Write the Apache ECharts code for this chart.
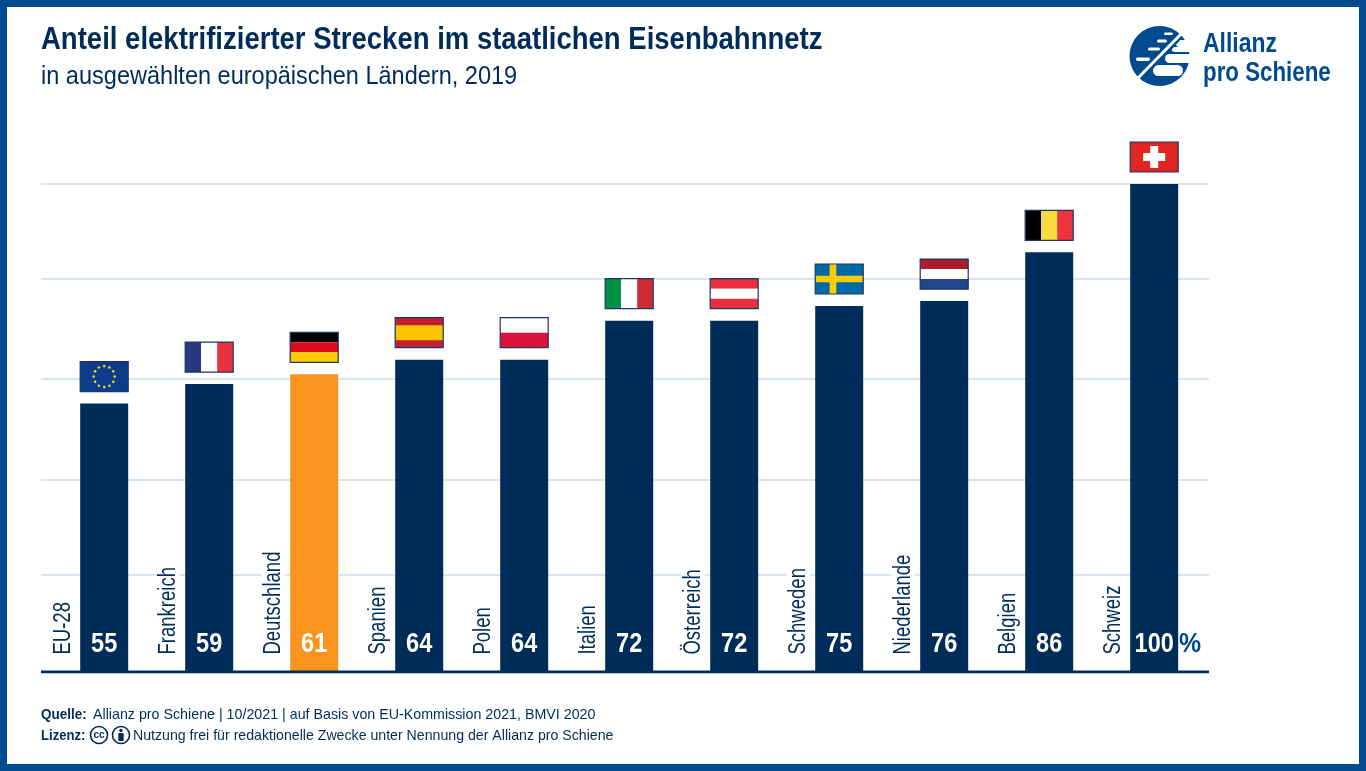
<!DOCTYPE html>
<html>
<head>
<meta charset="utf-8">
<script src="https://cdn.jsdelivr.net/npm/echarts@6/dist/echarts.min.js"></script>
<style>
html,body{margin:0;padding:0;background:#fff}
#main{width:1366px;height:771px}
</style>
</head>
<body>
<div id="main"></div>
<script>
const categories = ['EU-28','Frankreich','Deutschland','Spanien','Polen','Italien','Österreich','Schweden','Niederlande','Belgien','Schweiz'];
const values = [55,59,61,64,64,72,72,75,76,86,100];
const flagKeys = ['eu','fr','de','es','pl','it','at','se','nl','be','ch'];
const gridValues = [20,39.4,60,80.6,100];
const highlight = 'Deutschland';

const SANS = '"Liberation Sans",sans-serif';
const DARK = '#002c5a';
const BLUE = '#004a8e';
const ORANGE = '#f99420';
const GRID = '#d7e5f1';

// flag drawing, relative to the flag box
function stripes(w,h,cols,vertical){
    return cols.map((c,i)=>({
        type:'rect',
        shape: vertical
            ? {x:w*i/cols.length,y:0,width:w/cols.length,height:h}
            : {x:0,y:h*i/cols.length,width:w,height:h/cols.length},
        style:{fill:c}
    }))
}
function flagShapes(key,w,h){
    if(key==='fr') return stripes(w,h,['#27387f','#ffffff','#e93140'],true)
    if(key==='it') return stripes(w,h,['#009246','#ffffff','#ce2b37'],true)
    if(key==='be') return stripes(w,h,['#000000','#f9dc3c','#ee3340'],true)
    if(key==='de') return stripes(w,h,['#000000','#dd0c18','#ffcc00'])
    if(key==='pl') return stripes(w,h,['#ffffff','#dc143c'])
    if(key==='at') return stripes(w,h,['#e8303e','#ffffff','#e8303e'])
    if(key==='nl') return stripes(w,h,['#ac1c2e','#ffffff','#21468b'])
    if(key==='es') return [
        {type:'rect',shape:{x:0,y:0,width:w,height:h},style:{fill:'#c3202f'}},
        {type:'rect',shape:{x:0,y:h/4,width:w,height:h/2},style:{fill:'#fcc400'}}
    ]
    if(key==='se') return [
        {type:'rect',shape:{x:0,y:0,width:w,height:h},style:{fill:'#006aa7'}},
        {type:'rect',shape:{x:0,y:h*0.39,width:w,height:h*0.22},style:{fill:'#fecc00'}},
        {type:'rect',shape:{x:w*0.3,y:0,width:w*0.14,height:h},style:{fill:'#fecc00'}}
    ]
    if(key==='ch') return [
        {type:'rect',shape:{x:0,y:0,width:w,height:h},style:{fill:'#e32522'}},
        {type:'rect',shape:{x:w/2-11,y:h/2-4,width:22,height:8},style:{fill:'#fff'}},
        {type:'rect',shape:{x:w/2-4,y:h/2-11,width:8,height:22},style:{fill:'#fff'}}
    ]
    const eu = [{type:'rect',shape:{x:0,y:0,width:w,height:h},style:{fill:'#0d3b8e'}}]
    for(let i=0;i<12;i++){
        const a = i/12*Math.PI*2
        eu.push({type:'circle',
            shape:{cx:w/2+Math.cos(a)*10.5,cy:h/2+Math.sin(a)*10.5,r:1.3},
            style:{fill:'#f6d812'}})
    }
    return eu
}

function renderFlag(params,api){
    const p = api.coord([api.value(0),api.value(1)])
    const w = 48, h = 30
    return {
        type:'group',
        x:p[0]-w/2, y:p[1]-h-12,
        children: flagShapes(flagKeys[params.dataIndex],w,h).concat([
            {type:'rect',shape:{x:0,y:0,width:w,height:h},
             style:{fill:'none',stroke:'#1c3561',lineWidth:1.2}}
        ])
    }
}

// country name, upright left of the bar, white box cuts the grid line
function renderName(params,api){
    const p = api.coord([api.value(0),0])
    return {
        type:'text',
        x:p[0]-41, y:p[1]-15,
        rotation:Math.PI/2,
        scaleX:0.806,
        style:{
            text:categories[params.dataIndex],
            font:'23px '+SANS,
            fill:DARK,
            align:'left',
            verticalAlign:'middle',
            backgroundColor:'#fff',
            padding:[0,3]
        }
    }
}

function renderValue(params,api){
    const p = api.coord([api.value(0),0])
    return {
        type:'text',
        x:p[0], y:p[1]-28,
        scaleX:0.84,
        style:{
            text:String(api.value(1)),
            font:'bold 28px '+SANS,
            fill:'#fff',
            align:'center',
            verticalAlign:'middle'
        }
    }
}

function text(x,y,str,font,fill,scaleX){
    return {type:'text',x:x,y:y,z:50,scaleX:scaleX||1,
        style:{text:str,font:font,fill:fill,verticalAlign:'middle'}}
}
function pill(x,y,w,h){
    return {type:'rect',shape:{x:x,y:y,width:w,height:h,r:h/2},z:51,style:{fill:'#fff'}}
}

const pointData = values.map((v,i)=>[i,v]);

const chart = echarts.init(document.getElementById('main'),null,{renderer:'canvas'});
chart.setOption({
    animation:false,
    grid:[
        {left:51.7,width:1155,top:184,height:488},
        {left:41,width:1168,top:184,height:488}
    ],
    xAxis:[
        {type:'category',gridIndex:0,data:categories,axisLine:{show:false},axisTick:{show:false},axisLabel:{show:false}},
        {type:'value',gridIndex:1,min:0,max:1,show:false}
    ],
    yAxis:[
        {type:'value',gridIndex:0,min:0,max:100,show:false},
        {type:'value',gridIndex:1,min:0,max:100,show:false}
    ],
    series:[
        {
            type:'line',xAxisIndex:1,yAxisIndex:1,data:[[0,0],[1,0]],
            symbol:'none',z:6,lineStyle:{color:DARK,width:3},
            markLine:{
                silent:true,symbol:'none',z:1,label:{show:false},
                lineStyle:{color:GRID,width:2,type:'solid'},
                data:gridValues.map(v=>({yAxis:v}))
            }
        },
        {
            type:'bar',xAxisIndex:0,yAxisIndex:0,barWidth:48,z:4,
            data:values.map((v,i)=>({value:v,itemStyle:{color:categories[i]===highlight?ORANGE:DARK}}))
        },
        {
            type:'custom',xAxisIndex:0,yAxisIndex:0,z:7,
            data:pointData,encode:{x:0,y:1},renderItem:renderValue
        },
        {
            type:'custom',xAxisIndex:0,yAxisIndex:0,z:5,
            data:pointData,encode:{x:0,y:1},renderItem:renderFlag
        },
        {
            type:'custom',xAxisIndex:0,yAxisIndex:0,z:3,
            data:pointData,encode:{x:0,y:1},renderItem:renderName
        }
    ],
    graphic:[
        {type:'rect',shape:{x:3.5,y:3.5,width:1359,height:764},z:40,
         style:{fill:'none',stroke:BLUE,lineWidth:7}},
        text(41,40,'Anteil elektrifizierter Strecken im staatlichen Eisenbahnnetz','bold 32px '+SANS,DARK,0.86),
        text(41,77,'in ausgewählten europäischen Ländern, 2019','26px '+SANS,DARK,0.905),
        text(1179,645,'%','bold 27px '+SANS,BLUE,0.92),
        // logo
        {type:'circle',shape:{cx:1159.5,cy:56,r:30},z:50,style:{fill:BLUE}},
        pill(1164,32.5,9,2.5),pill(1157,39.5,10,3),pill(1148,47.5,12,3),pill(1136,57.5,14,3.5),
        pill(1176,40,16,7),pill(1172,47,20,5),pill(1165,54,28,9),pill(1153,65,30,11),
        {type:'line',shape:{x1:1142,y1:74,x2:1177,y2:38},z:52,style:{stroke:BLUE,lineWidth:8}},
        {type:'line',shape:{x1:1138,y1:78,x2:1182,y2:33},z:53,style:{stroke:'#fff',lineWidth:3}},
        text(1203,44,'Allianz','bold 28px '+SANS,BLUE,0.82),
        text(1203,73,'pro Schiene','bold 28px '+SANS,BLUE,0.797),
        // footer
        text(41,715,'Quelle:','bold 15px '+SANS,DARK,0.9),
        text(93,715,'Allianz pro Schiene | 10/2021 | auf Basis von EU-Kommission 2021, BMVI 2020','15px '+SANS,DARK,0.95),
        text(41,736,'Lizenz:','bold 15px '+SANS,DARK,0.875),
        {type:'circle',shape:{cx:99,cy:735,r:8.5},z:50,style:{fill:'#fff',stroke:DARK,lineWidth:1.6}},
        {type:'text',x:99,y:735,z:51,style:{text:'cc',font:'bold 10px '+SANS,fill:DARK,align:'center',verticalAlign:'middle'}},
        {type:'circle',shape:{cx:121,cy:735,r:8.5},z:50,style:{fill:'#fff',stroke:DARK,lineWidth:1.6}},
        {type:'circle',shape:{cx:121,cy:730.5,r:1.7},z:51,style:{fill:DARK}},
        {type:'rect',shape:{x:118.3,y:733,width:5.4,height:8,r:1},z:51,style:{fill:DARK}},
        text(133,736,'Nutzung frei für redaktionelle Zwecke unter Nennung der Allianz pro Schiene','15px '+SANS,DARK,0.943)
    ]
});
</script>
</body>
</html>
